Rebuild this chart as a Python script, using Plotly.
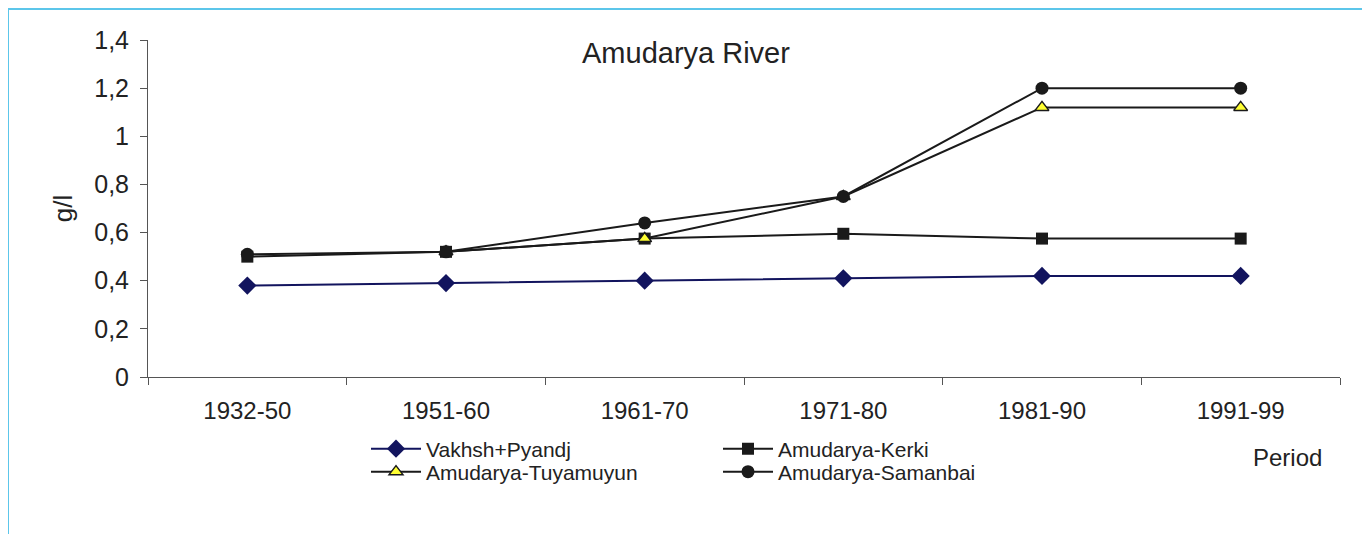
import plotly.graph_objects as go

periods = ["1932-50", "1951-60", "1961-70", "1971-80", "1981-90", "1991-99"]
vakhsh = [0.38, 0.39, 0.40, 0.41, 0.42, 0.42]
kerki = [0.50, 0.52, 0.575, 0.595, 0.575, 0.575]
tuyamuyun = [None, 0.52, 0.575, 0.75, 1.12, 1.12]
samanbai = [0.51, 0.52, 0.64, 0.75, 1.20, 1.20]

FONT = "Liberation Sans, Arial, sans-serif"
BLACK = "#1a1a1a"
NAVY = "#12145e"

# page offset of the figure inside the html body (default 8px body margin)
OFF = 8
W, H = 1370 - OFF, 534 - OFF
PL, PR, PT, PB = 148 - OFF, 1340 - OFF, 40 - OFF, 377 - OFF  # plot area in figure px


def px_x(px):
    return (px - OFF - PL) / (PR - PL)


def px_y(px):
    return (PB - (px - OFF)) / (PB - PT)


fig = go.Figure()
fig.add_trace(go.Scatter(x=periods, y=vakhsh, name="Vakhsh+Pyandj", mode="lines+markers",
                         line=dict(color=NAVY, width=2),
                         marker=dict(symbol="diamond", size=14, color=NAVY),
                         legend="legend", showlegend=True))
fig.add_trace(go.Scatter(x=periods, y=kerki, name="Amudarya-Kerki", mode="lines+markers",
                         line=dict(color=BLACK, width=2),
                         marker=dict(symbol="square", size=12, color=BLACK),
                         legend="legend2", showlegend=True))
fig.add_trace(go.Scatter(x=periods, y=tuyamuyun, name="Amudarya-Tuyamuyun", mode="lines+markers",
                         line=dict(color=BLACK, width=2),
                         marker=dict(symbol="triangle-up", size=12, color="#ffff33",
                                     line=dict(color=BLACK, width=1.5)),
                         legend="legend3", showlegend=True))
fig.add_trace(go.Scatter(x=periods, y=samanbai, name="Amudarya-Samanbai", mode="lines+markers",
                         line=dict(color=BLACK, width=2),
                         marker=dict(symbol="circle", size=13, color=BLACK),
                         legend="legend4", showlegend=True))

leg_common = dict(orientation="v", xref="paper", yref="paper",
                  xanchor="left", yanchor="middle", font=dict(family=FONT, size=21, color="#222"),
                  bgcolor="rgba(0,0,0,0)", itemwidth=50)

fig.update_layout(
    width=W, height=H,
    showlegend=True,
    margin=dict(l=PL, r=W - PR, t=PT, b=H - PB, autoexpand=False),
    paper_bgcolor="white", plot_bgcolor="white",
    separators=", ",
    font=dict(family=FONT, color="#222"),
    legend=dict(x=px_x(366), y=px_y(449), **leg_common),
    legend2=dict(x=px_x(718), y=px_y(449), **leg_common),
    legend3=dict(x=px_x(366), y=px_y(472), **leg_common),
    legend4=dict(x=px_x(718), y=px_y(472), **leg_common),
    xaxis=dict(type="category", tickson="boundaries", ticks="outside", ticklen=7,
               tickcolor="#555", showline=True, linecolor="#555", linewidth=1,
               showgrid=False, zeroline=False, range=[-0.5, 5.5], tickangle=0,
               tickfont=dict(family=FONT, size=24, color="#222"), ticklabelstandoff=12),
    yaxis=dict(range=[0, 1.4], dtick=0.2, ticks="outside", ticklen=7, tickcolor="#555",
               showline=True, linecolor="#555", linewidth=1, showgrid=False, zeroline=False,
               tickfont=dict(family=FONT, size=25, color="#222"), ticklabelstandoff=6,
               title=dict(text="g/l", font=dict(family=FONT, size=26, color="#222"), standoff=14)),
    annotations=[
        dict(text="Amudarya River", xref="paper", yref="paper", x=px_x(686),
             y=px_y(53), showarrow=False, xanchor="center", yanchor="middle",
             font=dict(family=FONT, size=29, color="#222")),
        dict(text="Period", xref="paper", yref="paper", x=px_x(1287),
             y=px_y(457), showarrow=False, xanchor="center", yanchor="middle",
             font=dict(family=FONT, size=24, color="#222")),
    ],
    shapes=[dict(type="rect", xref="paper", yref="paper",
                 x0=px_x(8), x1=px_x(1366), y0=px_y(560), y1=px_y(9),
                 line=dict(color="#5cc6ea", width=2), fillcolor="rgba(0,0,0,0)", layer="below")],
)

fig.write_html("out.html")
